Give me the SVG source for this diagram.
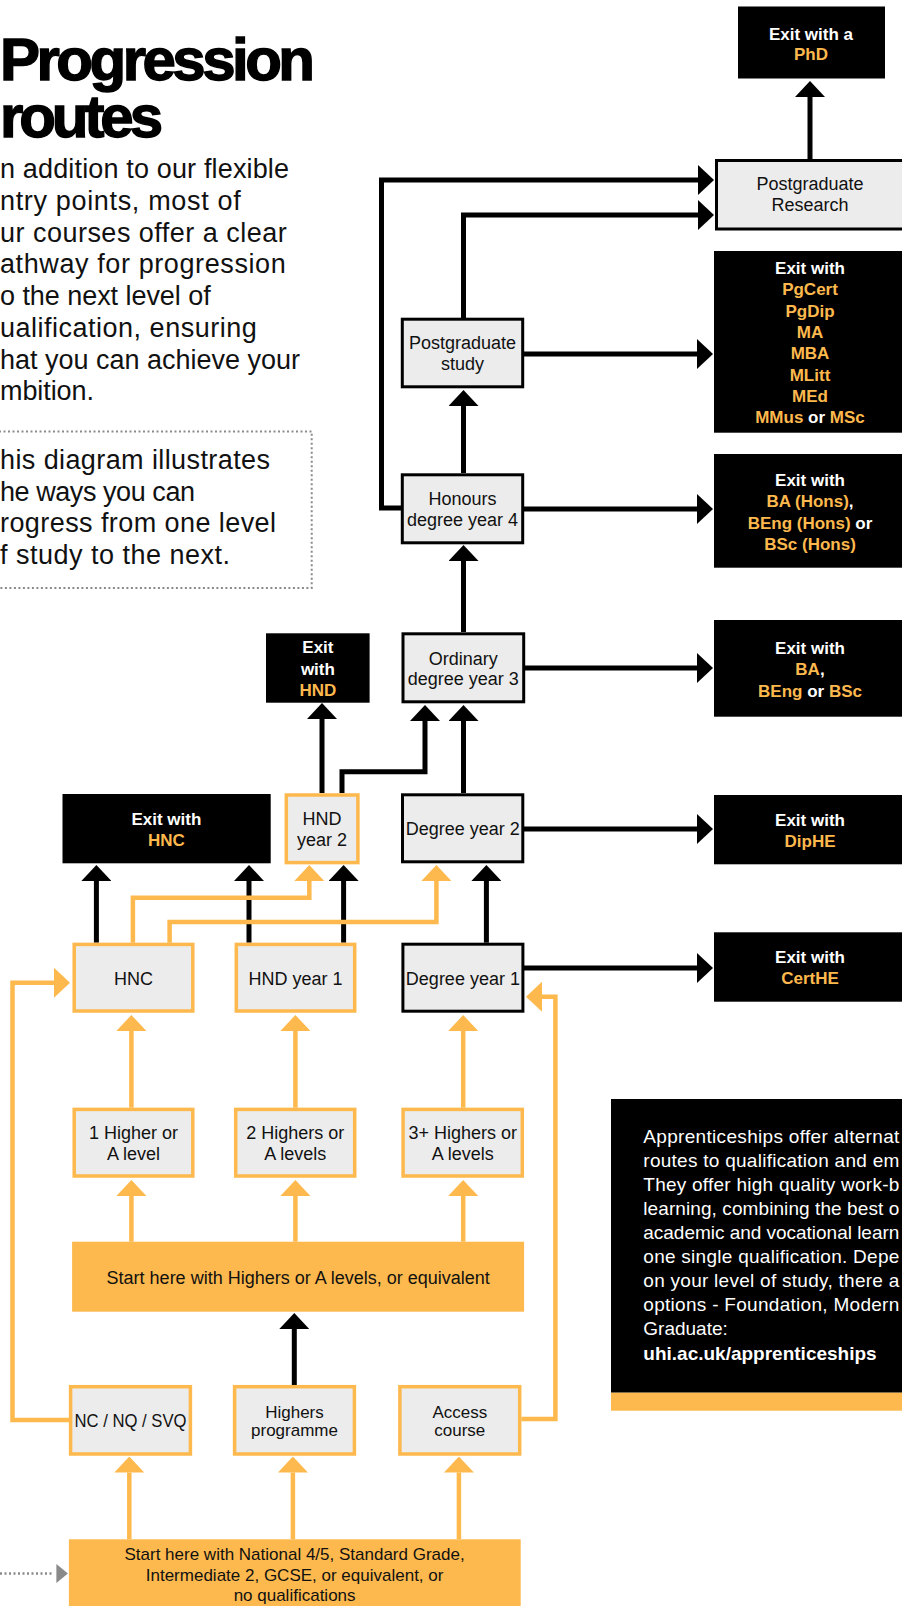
<svg xmlns="http://www.w3.org/2000/svg" width="902" height="1606" viewBox="0 0 902 1606">
<style>
text{font-family:"Liberation Sans",Arial,sans-serif}
.t{font-size:18px;fill:#111;text-anchor:middle}
.ts{font-size:17px;fill:#111;text-anchor:middle}
.p{font-size:27px;fill:#111}
.ttl{font-size:60px;font-weight:700;fill:#000;stroke:#000;stroke-width:1.4}
.x{font-size:17px;font-weight:700;fill:#fff;text-anchor:middle}
.o{fill:#FDB94D}
.w{fill:#fff}
.nb{fill:#ececec;stroke:#000;stroke-width:3}
.no{fill:#ececec;stroke:#FDB94D;stroke-width:3.5}
.ex{fill:#000}
.bar{fill:#FDB94D}
.cb{fill:none;stroke:#000;stroke-width:5;marker-end:url(#ab)}
.co{fill:none;stroke:#FDB94D;stroke-width:4.5;marker-end:url(#ao)}
.ap{font-size:19px;fill:#fff}
</style>
<defs>
<marker id="ab" markerUnits="userSpaceOnUse" viewBox="0 0 16 30" markerWidth="16" markerHeight="30" refX="0" refY="15" orient="auto"><path d="M0,0 L16,15 L0,30 Z" fill="#000"/></marker>
<marker id="ao" markerUnits="userSpaceOnUse" viewBox="0 0 16 30" markerWidth="16" markerHeight="30" refX="0" refY="15" orient="auto"><path d="M0,0 L16,15 L0,30 Z" fill="#FDB94D"/></marker>
</defs>

<g id="title">
<text class="ttl"><tspan x="0" y="80" textLength="315">Progression</tspan><tspan x="0" y="137" textLength="163">routes</tspan></text>
</g>
<g id="intro">
<text class="p" x="0" y="178" textLength="289">n addition to our flexible</text>
<text class="p" x="0" y="210" textLength="240.7">ntry points, most of</text>
<text class="p" x="0" y="241.5" textLength="286.7">ur courses offer a clear</text>
<text class="p" x="0" y="273.3" textLength="285.7">athway for progression</text>
<text class="p" x="0" y="305" textLength="210.7">o the next level of</text>
<text class="p" x="0" y="336.7" textLength="256.7">ualification, ensuring</text>
<text class="p" x="0" y="368.5" textLength="300">hat you can achieve your</text>
<text class="p" x="0" y="400" textLength="94">mbition.</text>
</g>
<g id="note">
<rect x="-10" y="431.5" width="321.7" height="156.5" fill="none" stroke="#8a8a8a" stroke-width="2" stroke-dasharray="2 2.5"/>
<text class="p" x="0" y="469" textLength="270">his diagram illustrates</text>
<text class="p" x="0" y="500.5" textLength="195">he ways you can</text>
<text class="p" x="0" y="532" textLength="276">rogress from one level</text>
<text class="p" x="0" y="563.5" textLength="230">f study to the next.</text>
</g>

<g id="connectors">
<path class="cb" d="M810,159 V97"/>
<path class="cb" d="M402,508 H381.5 V180 H698"/>
<path class="cb" d="M463.5,318 V215 H698"/>
<path class="cb" d="M524,354 H697"/>
<path class="cb" d="M463.5,473 V406"/>
<path class="cb" d="M524,509 H697"/>
<path class="cb" d="M463.5,632 V561"/>
<path class="cb" d="M525,668 H697"/>
<path class="cb" d="M463.5,793 V721"/>
<path class="cb" d="M342,793 V771.7 H425 V721"/>
<path class="cb" d="M322,793 V719"/>
<path class="cb" d="M524,829 H697"/>
<path class="cb" d="M96.4,942.7 V881"/>
<path class="cb" d="M249,942.7 V881"/>
<path class="cb" d="M343.6,942.7 V881"/>
<path class="cb" d="M486.4,942.7 V881"/>
<path class="cb" d="M524,968 H697"/>
<path class="cb" d="M294.3,1385 V1329"/>
<path class="co" d="M132.9,942.7 V897.7 H309.3 V881"/>
<path class="co" d="M169.6,942.7 V922 H436.4 V881"/>
<path class="co" d="M69,1420 H12.5 V982.7 H54"/>
<path class="co" d="M521.4,1419 H555.4 V996.7 H542"/>
<path class="co" d="M131.4,1107.7 V1031"/>
<path class="co" d="M295.4,1107.7 V1031"/>
<path class="co" d="M463.2,1107.7 V1031"/>
<path class="co" d="M131.4,1241.7 V1196"/>
<path class="co" d="M295.4,1241.7 V1196"/>
<path class="co" d="M463.2,1241.7 V1196"/>
<path class="co" d="M129.3,1539.3 V1472.5"/>
<path class="co" d="M292.9,1539.3 V1472.5"/>
<path class="co" d="M458.9,1539.3 V1472.5"/>
<path d="M0,1573.5 H54" fill="none" stroke="#8a8a8a" stroke-width="2.5" stroke-dasharray="2 2.5"/>
<polygon points="56.4,1564 67.9,1573.5 56.4,1583" fill="#8a8a8a"/>
</g>

<g id="exit-phd">
<rect class="ex" x="738" y="6.5" width="147" height="72"/>
<text class="x" x="811" y="39.5">Exit with a</text>
<text class="x" x="811" y="60"><tspan class="o">PhD</tspan></text>
</g>
<g id="pg-research">
<rect class="nb" x="716.5" y="160.5" width="200" height="68.5"/>
<text class="t" x="810" y="189.5">Postgraduate</text>
<text class="t" x="810" y="211">Research</text>
</g>
<g id="exit-pg">
<rect class="ex" x="714" y="251" width="200" height="181.7"/>
<text class="x" x="810" y="274">Exit with</text>
<text class="x o" x="810" y="295.3">PgCert</text>
<text class="x o" x="810" y="316.6">PgDip</text>
<text class="x o" x="810" y="337.9">MA</text>
<text class="x o" x="810" y="359.2">MBA</text>
<text class="x o" x="810" y="380.5">MLitt</text>
<text class="x o" x="810" y="401.8">MEd</text>
<text class="x" x="810" y="423.1"><tspan class="o">MMus</tspan> or <tspan class="o">MSc</tspan></text>
</g>
<g id="pg-study">
<rect class="nb" x="402.3" y="319.2" width="120.4" height="67.6"/>
<text class="t" x="462.5" y="349">Postgraduate</text>
<text class="t" x="462.5" y="369.5">study</text>
</g>
<g id="honours">
<rect class="nb" x="402.3" y="474.8" width="120.4" height="68"/>
<text class="t" x="462.5" y="505">Honours</text>
<text class="t" x="462.5" y="526">degree year 4</text>
</g>
<g id="exit-hons">
<rect class="ex" x="714" y="454" width="200" height="113.7"/>
<text class="x" x="810" y="486">Exit with</text>
<text class="x" x="810" y="507.3"><tspan class="o">BA (Hons)</tspan>,</text>
<text class="x" x="810" y="528.6"><tspan class="o">BEng (Hons)</tspan> or</text>
<text class="x o" x="810" y="550">BSc (Hons)</text>
</g>
<g id="ordinary">
<rect class="nb" x="403" y="633.8" width="120.7" height="68"/>
<text class="t" x="463.3" y="664.5">Ordinary</text>
<text class="t" x="463.3" y="685">degree year 3</text>
</g>
<g id="exit-ba">
<rect class="ex" x="714" y="620" width="200" height="96.7"/>
<text class="x" x="810" y="654.3">Exit with</text>
<text class="x" x="810" y="675.3"><tspan class="o">BA</tspan>,</text>
<text class="x" x="810" y="696.7"><tspan class="o">BEng</tspan> or <tspan class="o">BSc</tspan></text>
</g>
<g id="exit-hnd">
<rect class="ex" x="266" y="633.3" width="103.6" height="69.4"/>
<text class="x" x="317.9" y="652.7">Exit</text>
<text class="x" x="317.9" y="674.5">with</text>
<text class="x o" x="317.9" y="696">HND</text>
</g>
<g id="hnd-year2">
<rect class="no" x="286.3" y="795" width="71.6" height="67.6"/>
<text class="t" x="322" y="825">HND</text>
<text class="t" x="322" y="846">year 2</text>
</g>
<g id="degree-year2">
<rect class="nb" x="402.5" y="794.8" width="120.3" height="67"/>
<text class="t" x="462.7" y="835">Degree year 2</text>
</g>
<g id="exit-dip">
<rect class="ex" x="714" y="795" width="200" height="69.3"/>
<text class="x" x="810" y="826">Exit with</text>
<text class="x o" x="810" y="847">DipHE</text>
</g>
<g id="exit-hnc">
<rect class="ex" x="62.5" y="794" width="208.2" height="69.3"/>
<text class="x" x="166.4" y="825">Exit with</text>
<text class="x o" x="166.4" y="845.5">HNC</text>
</g>
<g id="hnc">
<rect class="no" x="74.2" y="944.4" width="118.6" height="66.6"/>
<text class="t" x="133.5" y="984.5">HNC</text>
</g>
<g id="hnd-year1">
<rect class="no" x="236.3" y="944.4" width="118.4" height="66.6"/>
<text class="t" x="295.5" y="984.5">HND year 1</text>
</g>
<g id="degree-year1">
<rect class="nb" x="402.9" y="944.2" width="120" height="67"/>
<text class="t" x="462.9" y="984.5">Degree year 1</text>
</g>
<g id="exit-cert">
<rect class="ex" x="714" y="932.3" width="200" height="69.4"/>
<text class="x" x="810" y="962.7">Exit with</text>
<text class="x o" x="810" y="983.7">CertHE</text>
</g>
<g id="one-higher">
<rect class="no" x="74.2" y="1109.4" width="118.6" height="66.6"/>
<text class="t" x="133.5" y="1139">1 Higher or</text>
<text class="t" x="133.5" y="1159.5">A level</text>
</g>
<g id="two-highers">
<rect class="no" x="235.7" y="1109.4" width="119" height="66.6"/>
<text class="t" x="295.2" y="1139">2 Highers or</text>
<text class="t" x="295.2" y="1159.5">A levels</text>
</g>
<g id="three-highers">
<rect class="no" x="403.1" y="1109.4" width="119.2" height="66.6"/>
<text class="t" x="462.7" y="1139">3+ Highers or</text>
<text class="t" x="462.7" y="1159.5">A levels</text>
</g>
<g id="start-highers">
<rect class="bar" x="72.1" y="1241.7" width="452" height="70"/>
<text class="t" x="298.2" y="1284">Start here with Highers or A levels, or equivalent</text>
</g>
<g id="nc-nq-svq">
<rect class="no" x="70.6" y="1386.7" width="119.8" height="67.3"/>
<text class="t" x="130.5" y="1426.5" textLength="112" lengthAdjust="spacingAndGlyphs">NC / NQ / SVQ</text>
</g>
<g id="highers-programme">
<rect class="no" x="234.6" y="1386.7" width="119.8" height="67.3"/>
<text class="ts" x="294.5" y="1418.3">Highers</text>
<text class="ts" x="294.5" y="1436">programme</text>
</g>
<g id="access-course">
<rect class="no" x="399.9" y="1386.7" width="119.8" height="67.3"/>
<text class="ts" x="459.8" y="1418.3">Access</text>
<text class="ts" x="459.8" y="1436">course</text>
</g>
<g id="start-national">
<rect class="bar" x="68.9" y="1539.3" width="451.8" height="70"/>
<text class="ts" x="294.6" y="1559.5">Start here with National 4/5, Standard Grade,</text>
<text class="ts" x="294.6" y="1581">Intermediate 2, GCSE, or equivalent, or</text>
<text class="ts" x="294.6" y="1601">no qualifications</text>
</g>
<g id="apprenticeships">
<rect class="ex" x="611" y="1099" width="300" height="293.7"/>
<rect class="bar" x="611" y="1392.7" width="300" height="18"/>
<text class="ap" x="643.3" y="1143" textLength="256">Apprenticeships offer alternat</text>
<text class="ap" x="643.3" y="1167" textLength="256">routes to qualification and em</text>
<text class="ap" x="643.3" y="1191" textLength="256">They offer high quality work-b</text>
<text class="ap" x="643.3" y="1215" textLength="256">learning, combining the best o</text>
<text class="ap" x="643.3" y="1239" textLength="256">academic and vocational learn</text>
<text class="ap" x="643.3" y="1263" textLength="256">one single qualification. Depe</text>
<text class="ap" x="643.3" y="1287" textLength="256">on your level of study, there a</text>
<text class="ap" x="643.3" y="1311" textLength="256">options - Foundation, Modern</text>
<text class="ap" x="643.3" y="1335">Graduate:</text>
<text class="ap" x="643.3" y="1359.5" font-weight="700">uhi.ac.uk/apprenticeships</text>
</g>
</svg>
